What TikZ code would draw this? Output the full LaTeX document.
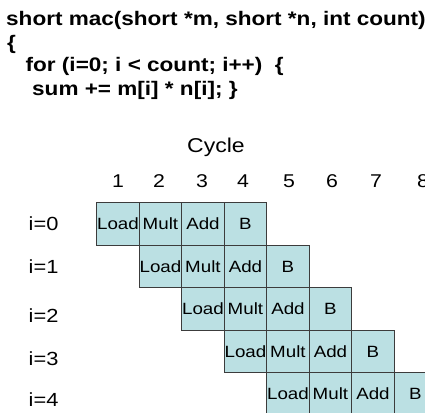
\documentclass[tikz,border=0pt]{standalone}
\usepackage{fontspec}
\setmainfont{Liberation Sans}[FakeStretch=1.15]
\definecolor{cellfill}{RGB}{187,224,227}
\definecolor{cellline}{RGB}{60,60,60}
\tikzset{
  cell/.style={draw=cellline, line width=0.8pt, fill=cellfill, minimum width=42.5pt, minimum height=42.5pt, inner sep=0pt, font=\fontsize{16.3}{18}\selectfont},
  code/.style={anchor=base west, inner sep=0pt, font=\fontsize{19.6}{22}\selectfont\bfseries},
  lbl/.style={anchor=base west, inner sep=0pt, font=\fontsize{19}{21}\selectfont},
  num/.style={anchor=base, inner sep=0pt, font=\fontsize{18.5}{20}\selectfont}
}
\begin{document}
\begin{tikzpicture}[x=1pt,y=-1pt]
\useasboundingbox (0,0) rectangle (425,412);
% code
\node[code] (l1) at (6,26) {short mac(short *m, short *n, int count)};
\node[code] (l2) at (7,49) {\{};
\node[code] (l3) at (25.5,71) {for (i=0; i < count; i++)\ \ \{};
\node[code] (l4) at (32,95) {sum += m[i] * n[i]; \}};
% header
\node[num, font=\fontsize{20}{22}\selectfont] (cyc) at (216,152) {Cycle};
\foreach \k/\x in {1/118,2/159,3/202,4/243,5/289,6/332,7/376,8/423}
  \node[num] (n\k) at (\x,187) {\k};
% row labels
\foreach \r/\y in {0/230,1/273,2/322,3/365,4/406.5}
  \node[lbl] (i\r) at (28.5,\y) {i=\r};
% cells
\foreach \r in {0,...,4}{
  \foreach \t [count=\j from 0] in {Load,Mult,Add,B}{
    \pgfmathsetmacro{\cx}{96.7+42.5*(\r+\j)+21.25}
    \pgfmathsetmacro{\cy}{202.7+42.5*\r+21.25}
    \node[cell] (c\r\j) at (\cx,\cy) {\t};
  }
}
\end{tikzpicture}
\end{document}
